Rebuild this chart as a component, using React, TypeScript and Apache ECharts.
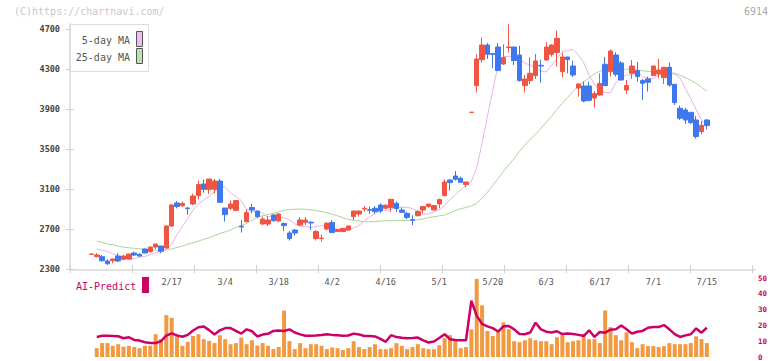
import { useEffect, useRef } from 'react';
import * as echarts from 'echarts';

// Daily OHLC, oldest first
const opens = [
  2448, 2427, 2426, 2383, 2386, 2433, 2400, 2403, 2463, 2450,
  2503, 2477, 2523, 2533, 2513, 2733, 2963, 2937, 2913, 2953,
  3037, 3153, 3100, 3100, 3183, 2913, 2910, 2890, 2730, 2777,
  2917, 2883, 2753, 2753, 2843, 2783, 2757, 2663, 2693, 2743,
  2770, 2770, 2607, 2607, 2703, 2767, 2677, 2677, 2693, 2827,
  2853, 2903, 2897, 2910, 2943, 2910, 2917, 2960, 2893, 2860,
  2797, 2837, 2893, 2927, 2893, 2953, 3037, 3193, 3233, 3210,
  3147, 3870, 4137, 4397, 4543, 4457, 4523, 4353, 4517, 4523,
  4443, 4137, 4187, 4237, 4340, 4393, 4450, 4467, 4277, 4423,
  4333, 4113, 4133, 4133, 4013, 4043, 4350, 4277, 4443, 4363,
  4093, 4260, 4287, 4187, 4203, 4237, 4253, 4217, 4320, 4150,
  3910, 3893, 3870, 3793, 3677, 3793,
];
const closes = [
  2453, 2443, 2386, 2356, 2403, 2383, 2433, 2453, 2443, 2433,
  2463, 2523, 2553, 2480, 2733, 2943, 2927, 2957, 2907, 3033,
  3147, 3100, 3203, 3183, 2970, 2847, 2953, 2987, 2723, 2867,
  2893, 2827, 2803, 2793, 2787, 2853, 2737, 2607, 2663, 2793,
  2793, 2763, 2677, 2613, 2760, 2667, 2700, 2710, 2733, 2883,
  2883, 2910, 2890, 2877, 2883, 2940, 3000, 2907, 2870, 2817,
  2790, 2877, 2927, 2953, 2937, 2997, 3173, 3167, 3200, 3170,
  3173, 3870, 4403, 4543, 4450, 4450, 4287, 4417, 4523, 4387,
  4187, 4203, 4260, 4383, 4333, 4523, 4543, 4610, 4423, 4397,
  4243, 4153, 3983, 3990, 4057, 4157, 4137, 4483, 4250, 4193,
  4137, 4333, 4227, 4160, 4170, 4333, 4293, 4320, 4143, 3967,
  3810, 3793, 3767, 3627, 3740, 3737,
];
const lows = [
  2445, 2420, 2376, 2343, 2360, 2373, 2393, 2400, 2433, 2423,
  2460, 2467, 2503, 2460, 2507, 2723, 2910, 2923, 2847, 2943,
  2997, 3067, 3053, 3057, 2970, 2777, 2893, 2880, 2667, 2770,
  2860, 2810, 2743, 2733, 2773, 2777, 2683, 2587, 2637, 2737,
  2743, 2693, 2587, 2577, 2690, 2667, 2673, 2673, 2690, 2793,
  2827, 2877, 2853, 2853, 2863, 2900, 2873, 2873, 2863, 2803,
  2743, 2827, 2860, 2917, 2890, 2910, 3030, 3087, 3187, 3167,
  3120, 3870, 4067, 4367, 4403, 4310, 4287, 4343, 4467, 4343,
  4177, 4067, 4153, 4203, 4167, 4387, 4427, 4327, 4220, 4260,
  4223, 4027, 3970, 3977, 3917, 4037, 4133, 4227, 4227, 4190,
  4053, 4203, 4177, 3993, 4077, 4233, 4210, 4153, 4127, 3943,
  3793, 3753, 3750, 3607, 3650, 3700,
];
const highs = [
  2458, 2460, 2443, 2400, 2405, 2463, 2443, 2455, 2477, 2460,
  2507, 2525, 2553, 2533, 2740, 2953, 2983, 2977, 2923, 3057,
  3187, 3200, 3203, 3203, 3203, 2913, 2990, 2990, 2793, 2900,
  2953, 2883, 2827, 2833, 2853, 2860, 2767, 2683, 2700, 2823,
  2823, 2783, 2693, 2650, 2773, 2793, 2703, 2713, 2737, 2887,
  2887, 2933, 2927, 2933, 2960, 2953, 3000, 2977, 2917, 2877,
  2840, 2893, 2933, 2953, 2943, 3007, 3200, 3197, 3283, 3227,
  3173, 3870, 4450, 4617, 4563, 4460, 4563, 4550, 4753, 4523,
  4533, 4243, 4420, 4453, 4393, 4570, 4550, 4687, 4467, 4423,
  4387, 4160, 4177, 4177, 4083, 4260, 4423, 4500, 4470, 4383,
  4193, 4393, 4373, 4203, 4227, 4337, 4403, 4320, 4367, 4153,
  3937, 3917, 3870, 3833, 3783, 3803,
];

// Moving averages
const ma5 = [
  null, 2503, 2493, 2478, 2455, 2433, 2415, 2400, 2406, 2423,
  2429, 2445, 2463, 2483, 2490, 2550, 2646, 2727, 2808, 2893,
  2953, 2994, 3029, 3078, 3133, 3121, 3061, 3031, 2988, 2896,
  2875, 2885, 2859, 2823, 2837, 2821, 2813, 2795, 2755, 2729,
  2731, 2719, 2724, 2738, 2728, 2721, 2696, 2683, 2690, 2714,
  2739, 2782, 2824, 2860, 2889, 2889, 2900, 2918, 2921, 2920,
  2907, 2877, 2852, 2856, 2873, 2897, 2938, 2997, 3045, 3095,
  3141, 3177, 3316, 3563, 3832, 4088, 4343, 4427, 4429, 4425,
  4413, 4360, 4343, 4312, 4284, 4273, 4340, 4408, 4478, 4486,
  4499, 4443, 4365, 4240, 4153, 4085, 4068, 4065, 4165, 4217,
  4244, 4240, 4279, 4228, 4210, 4205, 4245, 4237, 4255, 4252,
  4211, 4107, 4007, 3896, 3793, 3738,
];
const ma25 = [
  null, 2583, 2570, 2555, 2545, 2532, 2521, 2515, 2510, 2505,
  2500, 2495, 2492, 2490, 2495, 2505, 2518, 2532, 2550, 2565,
  2582, 2600, 2615, 2638, 2658, 2675, 2693, 2718, 2740, 2760,
  2790, 2820, 2835, 2848, 2860, 2875, 2890, 2896, 2900, 2902,
  2900, 2895, 2887, 2877, 2865, 2850, 2835, 2815, 2800, 2790,
  2782, 2777, 2776, 2777, 2782, 2787, 2787, 2787, 2787, 2788,
  2790, 2795, 2805, 2818, 2825, 2835, 2843, 2865, 2888, 2905,
  2918, 2935, 2960, 3010, 3070, 3140, 3210, 3280, 3345, 3410,
  3480, 3543, 3600, 3650, 3710, 3770, 3830, 3900, 3960, 4020,
  4080, 4130, 4175, 4215, 4255, 4280, 4300, 4302, 4302, 4300,
  4300, 4298, 4292, 4285, 4280, 4277, 4273, 4270, 4266, 4260,
  4240, 4215, 4190, 4160, 4120, 4080,
];

// Lower panel
const volume = [
  null, 5.6, 8.8, 8.8, 7.1, 8.1, 6.5, 7.1, 6.3, 5.6,
  7.1, 7.1, 14.4, 11.3, 26.5, 24.8, 13.8, 7.1, 9.6, 13.3,
  14.4, 11.3, 10.2, 8.8, 13.8, 11.3, 8.1, 8.8, 12.3, 8.1,
  10.6, 7.3, 8.8, 7.1, 5.0, 6.3, 29.4, 10.0, 5.0, 8.8,
  5.6, 8.1, 8.1, 7.1, 5.0, 6.0, 5.6, 4.4, 5.6, 10.0,
  6.3, 5.0, 6.3, 8.1, 5.0, 5.0, 5.6, 8.8, 7.1, 5.0,
  6.3, 8.1, 5.6, 5.0, 5.0, 7.5, 11.9, 13.8, 11.3, 5.6,
  6.3, 17.5, 49.4, 32.7, 16.5, 13.3, 15.8, 21.9, 17.5, 10.0,
  9.4, 10.6, 11.9, 10.6, 10.0, 10.0, 8.1, 12.5, 13.8, 9.4,
  10.0, 10.6, 14.8, 11.3, 11.3, 8.8, 29.4, 18.9, 13.8, 10.6,
  15.6, 9.4, 5.6, 8.1, 6.9, 6.9, 6.3, 6.9, 8.8, 8.1,
  8.1, 8.1, 8.8, 13.1, 11.3, 8.8,
];
const aiPredict = [
  null, 12.7, 13.4, 13.5, 13.3, 13.1, 11.9, 12.5, 10.8, 10.4,
  9.3, 8.9, 8.9, 10.0, 13.5, 15.0, 13.7, 12.8, 14.0, 16.8,
  18.8, 19.3, 17.0, 14.2, 16.9, 18.3, 18.3, 16.5, 14.8, 17.5,
  16.3, 13.0, 14.2, 14.7, 16.5, 16.8, 16.5, 17.5, 15.5, 14.3,
  13.5, 13.4, 13.6, 13.9, 14.4, 14.0, 13.7, 13.4, 13.6, 14.8,
  14.3, 13.3, 13.3, 13.0, 11.5, 9.6, 13.8, 12.6, 12.2, 11.9,
  12.0, 12.3, 10.5, 9.2, 9.8, 12.0, 14.4, 11.3, 10.8, 10.6,
  10.6, 35.6, 26.0, 21.0, 19.4, 18.3, 16.1, 19.4, 19.6, 17.5,
  14.6, 14.4, 15.5, 21.7, 17.5, 16.0, 15.5, 16.3, 14.5, 14.8,
  14.5, 14.0, 13.3, 16.9, 12.7, 15.8, 15.4, 17.3, 17.5, 20.0,
  17.5, 14.8, 16.0, 16.5, 18.5, 19.0, 19.0, 20.2, 17.5, 14.5,
  12.7, 13.7, 14.4, 18.1, 15.4, 18.5,
];

// Axis labels
const dateTicks = ['2/17', '3/4', '3/18', '4/2', '4/16', '5/1', '5/20', '6/3', '6/17', '7/1', '7/15'];
const firstDateTick = 15;
const dateTickStep = 10;
const priceTicks = [2300, 2700, 3100, 3500, 3900, 4300, 4700];
const volumeMax = 50;

const MONO = 'DejaVu Sans Mono';
const UP = '#f05442';
const DOWN = '#3f78ec';
const CRIMSON = '#cc0066';

// empty slots before and after the traded days
const LEAD = 4;
const TRAIL = 9;

export default function App() {
  const ref = useRef<HTMLDivElement>(null);

  useEffect(() => {
    if (!ref.current) return;
    const chart = echarts.init(ref.current, null, { renderer: 'svg' });

    const n = closes.length;
    const total = LEAD + n + TRAIL;
    const labelAt: Record<number, string> = {};
    dateTicks.forEach((d, k) => {
      labelAt[LEAD + firstDateTick + k * dateTickStep] = d;
    });
    const slots = Array.from({ length: total }, (_, i) => 'd' + i);

    const padNull = (arr: (number | null)[]) => [
      ...Array(LEAD).fill(null),
      ...arr,
      ...Array(TRAIL).fill(null),
    ];
    const candles = [
      ...Array(LEAD).fill('-'),
      ...closes.map((c, i) => [opens[i], c, lows[i], highs[i]]),
      ...Array(TRAIL).fill('-'),
    ];

    const plotLeft = 70;
    const plotRight = 755;
    const plotWidth = plotRight - plotLeft;
    const tickGap = 62;
    const tickPx: number[] = [];
    for (let p = 0; p <= plotWidth; p += tickGap) tickPx.push(p);

    const priceMax = Math.max(...highs);

    const tickHelper = (inside: boolean) => ({
      type: 'value',
      gridIndex: 0,
      min: 0,
      max: plotWidth,
      position: 'bottom',
      axisLine: { show: false },
      axisLabel: { show: false },
      splitLine: { show: false },
      axisTick: {
        show: true,
        inside,
        length: 4,
        customValues: tickPx,
        lineStyle: { color: '#cfcfcf', width: 1 },
      },
    });

    const option: any = {
      animation: false,
      backgroundColor: '#ffffff',
      grid: [
        { left: plotLeft, right: 772 - plotRight, top: 24, height: 245.3 },
        { left: plotLeft, right: 772 - plotRight, top: 278, height: 80 },
      ],
      xAxis: [
        {
          type: 'category',
          gridIndex: 0,
          data: slots,
          boundaryGap: false,
          axisLine: { show: true, lineStyle: { color: '#e2e2e2', width: 2 } },
          axisTick: { show: false },
          splitLine: { show: false },
          axisLabel: {
            interval: (i: number) => labelAt[i] !== undefined,
            formatter: (_v: string, i: number) => labelAt[i] ?? '',
            fontFamily: MONO,
            fontSize: 8.5,
            color: '#555',
            margin: 8,
          },
        },
        tickHelper(false),
        tickHelper(true),
        {
          type: 'category',
          gridIndex: 1,
          data: slots,
          boundaryGap: false,
          show: false,
        },
      ],
      yAxis: [
        {
          type: 'value',
          gridIndex: 0,
          position: 'left',
          min: priceTicks[0],
          max: priceMax,
          axisLine: { show: true, lineStyle: { color: '#e2e2e2', width: 2 } },
          axisTick: {
            show: true,
            length: 4,
            customValues: priceTicks,
            lineStyle: { color: '#cfcfcf' },
          },
          axisLabel: {
            customValues: priceTicks,
            formatter: (v: number) => String(v),
            fontFamily: MONO,
            fontSize: 8.5,
            fontWeight: 'bold',
            color: '#444',
            margin: 10,
          },
          splitLine: { show: false },
        },
        {
          type: 'value',
          gridIndex: 0,
          position: 'left',
          min: priceTicks[0],
          max: priceMax,
          axisLine: { show: false },
          axisLabel: { show: false },
          splitLine: { show: false },
          axisTick: {
            show: true,
            inside: true,
            length: 4,
            customValues: priceTicks,
            lineStyle: { color: '#cfcfcf' },
          },
        },
        {
          type: 'value',
          gridIndex: 1,
          position: 'right',
          min: 0,
          max: volumeMax,
          interval: 10,
          axisLine: { show: false },
          axisTick: { show: false },
          splitLine: { show: false },
          axisLabel: {
            formatter: (v: number) => String(v),
            fontFamily: MONO,
            fontSize: 7.5,
            fontWeight: 'bold',
            color: CRIMSON,
            margin: 3,
          },
        },
      ],
      series: [
        {
          type: 'line',
          name: '25-day MA',
          xAxisIndex: 0,
          yAxisIndex: 0,
          data: padNull(ma25),
          symbol: 'none',
          lineStyle: { color: '#a9d59a', width: 1 },
          z: 1,
        },
        {
          type: 'line',
          name: '5-day MA',
          xAxisIndex: 0,
          yAxisIndex: 0,
          data: padNull(ma5),
          symbol: 'none',
          lineStyle: { color: '#e8b2ea', width: 1 },
          z: 1,
        },
        {
          type: 'candlestick',
          xAxisIndex: 0,
          yAxisIndex: 0,
          data: candles,
          barWidth: 5,
          itemStyle: {
            color: UP,
            color0: DOWN,
            borderColor: UP,
            borderColor0: DOWN,
            borderColorDoji: UP,
            borderWidth: 1,
          },
          z: 3,
        },
        {
          type: 'bar',
          name: 'Volume',
          xAxisIndex: 3,
          yAxisIndex: 2,
          data: padNull(volume),
          barWidth: 4,
          itemStyle: { color: '#f29a42' },
        },
        {
          type: 'line',
          name: 'AI-Predict',
          xAxisIndex: 3,
          yAxisIndex: 2,
          data: padNull(aiPredict),
          symbol: 'none',
          lineStyle: { color: CRIMSON, width: 2.5 },
          z: 4,
        },
      ],
      graphic: [
        {
          type: 'text',
          left: 14,
          top: 6,
          style: { text: '(C)https://chartnavi.com/', font: `10px "${MONO}"`, fill: '#c8c8c8' },
        },
        {
          type: 'text',
          right: 4,
          top: 6,
          style: { text: '6914', font: `10px "${MONO}"`, fill: '#aaaaaa' },
        },
        {
          type: 'rect',
          shape: { x: 70.5, y: 24.5, width: 78, height: 47 },
          style: { fill: '#ffffff', stroke: '#dddddd', lineWidth: 1 },
          z: 10,
        },
        {
          type: 'text',
          x: 130,
          y: 40,
          style: {
            text: '5-day MA',
            font: `10px "${MONO}"`,
            fill: '#555555',
            align: 'right',
            verticalAlign: 'middle',
          },
          z: 11,
        },
        {
          type: 'rect',
          shape: { x: 136.5, y: 31.5, width: 6, height: 15 },
          style: { fill: '#f0bdf0', stroke: '#555555', lineWidth: 1 },
          z: 11,
        },
        {
          type: 'text',
          x: 130,
          y: 57,
          style: {
            text: '25-day MA',
            font: `10px "${MONO}"`,
            fill: '#555555',
            align: 'right',
            verticalAlign: 'middle',
          },
          z: 11,
        },
        {
          type: 'rect',
          shape: { x: 136.5, y: 48.5, width: 6, height: 15 },
          style: { fill: '#bfe0b0', stroke: '#555555', lineWidth: 1 },
          z: 11,
        },
        {
          type: 'text',
          x: 76,
          y: 286,
          style: {
            text: 'AI-Predict',
            font: `10px "${MONO}"`,
            fill: CRIMSON,
            verticalAlign: 'middle',
          },
        },
        {
          type: 'rect',
          shape: { x: 142, y: 277, width: 7, height: 16 },
          style: { fill: CRIMSON },
        },
      ],
    };

    chart.setOption(option);
    return () => chart.dispose();
  }, []);

  return (
    <div
      ref={ref}
      style={{ position: 'absolute', left: 0, top: 0, width: 772, height: 361 }}
    />
  );
}
